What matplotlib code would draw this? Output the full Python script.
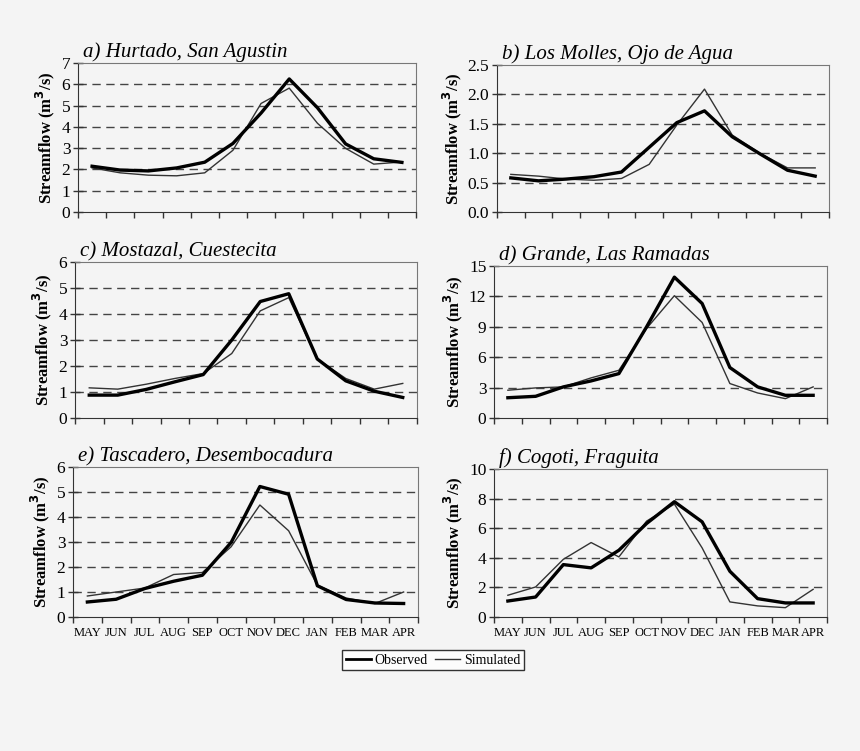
import numpy as np
import matplotlib
matplotlib.use('Agg')
import matplotlib.pyplot as plt
from matplotlib.lines import Line2D

months = ["MAY", "JUN", "JUL", "AUG", "SEP", "OCT", "NOV", "DEC", "JAN", "FEB", "MAR", "APR"]

titles = ["a) Hurtado, San Agustin", "b) Los Molles, Ojo de Agua",
          "c) Mostazal, Cuestecita", "d) Grande, Las Ramadas",
          "e) Tascadero, Desembocadura", "f) Cogoti, Fraguita"]

obs_a = [2.15, 1.97, 1.93, 2.07, 2.34, 3.22, 4.65, 6.25, 4.9, 3.2, 2.5, 2.33]
sim_a = [2.07, 1.84, 1.73, 1.70, 1.84, 2.9, 5.1, 5.82, 4.17, 2.99, 2.25, 2.35]

obs_b = [0.58, 0.53, 0.56, 0.60, 0.68, 1.10, 1.52, 1.72, 1.28, 0.99, 0.71, 0.61]
sim_b = [0.64, 0.61, 0.56, 0.54, 0.57, 0.81, 1.48, 2.09, 1.31, 1.00, 0.75, 0.75]

obs_c = [0.88, 0.88, 1.10, 1.39, 1.67, 3.0, 4.48, 4.78, 2.27, 1.43, 1.03, 0.79]
sim_c = [1.16, 1.11, 1.30, 1.52, 1.71, 2.48, 4.12, 4.63, 2.27, 1.52, 1.11, 1.33]

obs_d = [2.0, 2.14, 3.07, 3.66, 4.38, 9.0, 13.9, 11.3, 4.98, 3.07, 2.24, 2.24]
sim_d = [2.74, 2.97, 3.07, 3.96, 4.71, 8.84, 12.07, 9.43, 3.4, 2.47, 1.91, 3.07]

obs_e = [0.60, 0.71, 1.14, 1.43, 1.67, 2.98, 5.22, 4.91, 1.25, 0.70, 0.56, 0.54]
sim_e = [0.84, 1.00, 1.16, 1.70, 1.78, 2.81, 4.48, 3.45, 1.27, 0.76, 0.54, 1.00]

obs_f = [1.08, 1.35, 3.54, 3.32, 4.51, 6.32, 7.79, 6.43, 3.09, 1.24, 0.95, 0.95]
sim_f = [1.47, 2.03, 3.90, 5.03, 4.06, 6.48, 7.63, 4.67, 1.02, 0.75, 0.63, 1.87]

observed = [obs_a, obs_b, obs_c, obs_d, obs_e, obs_f]
simulated = [sim_a, sim_b, sim_c, sim_d, sim_e, sim_f]
yticks = [np.arange(0, 8, 1), np.arange(0, 2.6, 0.5), np.arange(0, 7, 1),
          np.arange(0, 16, 3), np.arange(0, 7, 1), np.arange(0, 11, 2)]
yfmt = ["%d", "%.1f", "%d", "%d", "%d", "%d"]

plt.rcParams['font.family'] = ['Liberation Serif', 'DejaVu Serif']
bg = '#f4f4f4'

fig = plt.figure(figsize=(8.6, 7.51), dpi=100, facecolor=bg)
W, H = 860, 751
# axes boxes in pixels: left, right, top, bottom
boxes = [(78, 416, 63, 212), (497, 829, 65, 212),
         (75, 417, 262, 418), (494, 827, 266, 418),
         (73, 418, 467, 617), (494, 827, 469, 617)]

x = np.arange(len(months))
for i, (l, r, t, b) in enumerate(boxes):
    ax = fig.add_axes([l / W, 1 - b / H, (r - l) / W, (b - t) / H])
    ax.set_facecolor(bg)
    ax.plot(x, simulated[i], color='#333333', lw=1.0, zorder=3)
    ax.plot(x, observed[i], color='black', lw=2.4, zorder=4)
    yt = yticks[i]
    ax.set_ylim(yt[0], yt[-1])
    ax.set_yticks(yt)
    ax.set_yticklabels([yfmt[i] % v for v in yt], fontsize=12.5)
    for v in yt[1:-1]:
        ax.axhline(v, color='#444444', lw=1.0, ls=(0, (6, 4)), zorder=1)
    ax.set_xlim(-0.5, 11.5)
    ax.set_xticks(np.arange(-0.5, 12, 1))
    ax.set_xticklabels([])
    if i >= 4:
        ax.set_xticks(x, minor=True)
        ax.set_xticklabels(months, minor=True, fontsize=9)
        ax.tick_params(axis='x', which='minor', length=0, pad=7)
    ax.tick_params(axis='x', which='major', direction='out', length=4,
                   width=1, color='#333333')
    ax.tick_params(axis='y', which='major', direction='inout', length=7,
                   width=1, color='#333333', pad=2)
    for s in ['left', 'bottom']:
        ax.spines[s].set_color('#333333')
    for s in ['top', 'right']:
        ax.spines[s].set_color('#777777')
    ax.set_ylabel("Streamflow (m$^{\\mathbf{3}}$/s)", fontsize=12, fontweight='bold', labelpad=3)
    ax.text(0.015, 1.005, titles[i], transform=ax.transAxes, fontsize=15,
            style='italic', ha='left', va='bottom')

handles = [Line2D([], [], color='black', lw=2.0), Line2D([], [], color='#333333', lw=1.0)]
leg = fig.legend(handles, ["Observed", "Simulated"], loc='center',
                 bbox_to_anchor=(433 / W, 1 - 660 / H), ncol=2, fontsize=10,
                 frameon=True, fancybox=False, handlelength=1.8, handletextpad=0.3,
                 columnspacing=0.5, borderpad=0.25, borderaxespad=0)
leg.get_frame().set_edgecolor('black')
leg.get_frame().set_facecolor('white')
leg.get_frame().set_linewidth(1.0)

fig.savefig("out.png", dpi=100, facecolor=bg)
